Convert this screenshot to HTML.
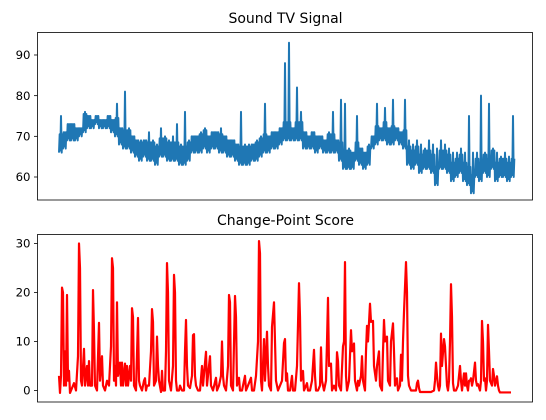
<!DOCTYPE html>
<html><head><meta charset="utf-8"><style>
body{margin:0;background:#fff;}
svg text{font-family:"DejaVu Sans","Liberation Sans",sans-serif;fill:#000;}
</style></head><body>
<svg id="chart" width="546" height="415" viewBox="0 0 546 415" xmlns="http://www.w3.org/2000/svg">
<rect width="546" height="415" fill="#fff"/>
<text x="285.5" y="23" font-size="14" text-anchor="middle">Sound TV Signal</text>
<text x="285.5" y="225" font-size="14" text-anchor="middle">Change-Point Score</text>
<g id="topPlot"></g>
<g id="botPlot"></g>
<rect x="37.5" y="32.5" width="495" height="167.5" fill="none" stroke="#000" stroke-width="0.8"/>
<rect x="37.5" y="234.5" width="495" height="167.5" fill="none" stroke="#000" stroke-width="0.8"/>
</svg>
<script>
const signalLow=[66,67,69,69,69,70,71,72,72,73,72,72,72,71,70,68,67,67,66,65,64,65,64,64,63,65,65,64,64,64,63,63,64,66,66,66,67,66,67,67,66,66,65,65,64,63,63,63,64,64,65,66,66,67,67,68,69,69,69,69,69,67,67,67,66,67,66,66,66,66,64,62,62,62,64,63,62,63,67,68,69,69,68,68,69,68,67,63,62,63,61,62,62,61,58,62,62,61,59,60,61,59,58,56,60,59,61,60,62,59,60,60,59,60];
const signalHigh=[75,71,73,73,72,72,76,75,74,75,74,74,75,74,78,72,81,72,70,69,69,69,71,69,68,72,70,69,70,73,68,76,69,70,70,71,72,70,71,71,72,70,69,69,68,76,68,68,68,69,70,78,70,71,71,72,88,93,72,82,76,71,70,71,70,70,69,71,76,69,79,78,67,66,75,67,66,68,70,78,72,77,72,79,72,71,79,69,68,69,68,67,69,68,67,69,68,67,66,66,67,66,75,66,66,80,66,78,67,66,65,66,65,75];
const scoreTimes=[0,1,2,3,4,5,6,7,8,9,10,11,13,15,17,19,20,21,22,23,25,26,28,29,30,31,33,34,35,36,38,40,41,43,44,46,48,50,52,53,54,55,56,57,58,59,61,62,63,64,66,67,68,69,71,72,73,74,75,77,79,80,81,83,85,86,87,88,90,92,93,94,95,97,98,99,100,102,103,104,106,107,108,109,110,112,114,115,116,117,118,120,121,123,125,126,127,128,129,131,133,134,135,136,137,139,141,143,144,147,148,151,152,154,157,158,160,162,163,164,165,167,169,170,171,172,174,176,177,178,180,181,183,186,187,189,192,193,195,197,199,200,201,202,203,205,206,208,209,210,212,213,215,216,217,219,221,223,225,226,227,228,229,231,233,234,236,238,240,241,242,244,245,248,249,251,253,255,256,257,259,261,262,263,265,267,268,269,270,272,273,275,277,278,279,280,282,284,285,286,287,288,290,292,293,295,296,298,299,300,302,303,304,306,307,308,309,311,312,314,315,317,318,320,321,323,324,325,326,328,329,331,332,334,335,336,337,338,339,341,342,343,344,345,347,348,349,350,352,354,357,358,359,360,361,363,367,372,375,376,377,378,379,380,381,382,383,385,386,387,388,389,390,391,392,393,394,395,397,399,401,402,403,405,406,407,408,409,410,411,412,413,414,416,417,418,419,421,422,423,424,425,426,427,428,429,430,431,433,434,435,436,438,439,440,441,452];
const scoreValues=[3,-0.5,3,21,20,1,8,1,19.5,2,4,-0.5,0.5,1.5,0,7,30,25,2,1,8.5,1,5,1,6,1,1,20.5,12,1,0,13.8,2,7,1,0,2,1,9,27,25,2,5,1,18,3,5.7,1,5.7,1,5.5,1,5,1,5,2,16.8,15,1,0,14.8,2,1,0,2,2.5,0,1,1,8,16.6,14,1,2,11,5,2,-0.3,4,0,0,8,26,20,2,0,5,23.6,20,2,0,0,1,0,0,8,14.4,5,1,0.5,3,11.3,11.5,3,1,0,0,5,1,7.9,1,7,1,0,2.6,0,1,3,10,3,1,0,5,19.5,18,1,0,19.3,15,1,2.6,0,0,3,0,1,2.6,0,0,3,10,30.5,28,2,0,10.5,2,12,5,1,0,13,18,10,2,0,1,2,9.7,10.5,2,3.5,0,0,3,0,0,5,21.9,15,2,4,0,1.5,0,0,2,8.3,3,0,0,1,8.8,2,0,2,10,18.9,5,5.5,0,1,0,7.8,6,1,0,9,10,26.2,3,0,2,12.3,8,9.6,2,0,2,1,3,7,2,0,8,13.2,10,17.7,14,14.2,5,2,5,8,1,0,8,14.4,10,11,2,1,10,13.7,8,1,2,2.5,0,1,7.3,2,10,16,26.2,20,3,1,0,0,0,1.5,2,0.5,-0.3,-0.3,-0.3,-0.3,0,2,5.7,3,1,0,1,11.6,5,10.5,9,5,1,0,2,10,21.7,15,1.5,0,0,1,5,2,0,3.5,1,3.5,1,0,2,2,2.5,1,2,5.7,2,1,1.3,0,2,14.2,10,2,2.5,0,2,13.4,8,2,1,4.4,3,1,2.9,1,0,-0.4,-0.4];
const signalTicks=[60,70,80,90];
const scoreTicks=[0,10,20,30];
const timeMax=452;

const NS='http://www.w3.org/2000/svg';
const xScale=t=>59+t/timeMax*452;
const ySig=v=>177-(v-60)*4.067;
const ySc=v=>390.5-v*4.9;
function mk(tag,attrs,parent){const e=document.createElementNS(NS,tag);for(const k in attrs)e.setAttribute(k,attrs[k]);parent.appendChild(e);return e;}
const topG=document.getElementById('topPlot'), botG=document.getElementById('botPlot');

let pts=[];
const step=timeMax/(signalLow.length-1);
for(let i=0;i<signalLow.length;i++){
  const t=i*step, lo=signalLow[i], hi=signalHigh[i];
  const hiC=Math.min(hi, lo+4.5);
  const sub=[[0,lo],[0.17,hiC],[0.33,lo+0.5],[0.5,hi],[0.67,lo],[0.83,hiC]];
  sub.forEach(([f,v])=>pts.push(xScale(t+f*step).toFixed(2)+','+ySig(v).toFixed(2)));
}
const sl=mk('polyline',{points:pts.join(' '),fill:'none',stroke:'#1f77b4','stroke-width':2,'stroke-linejoin':'round'},topG);



pts=scoreTimes.map((t,i)=>xScale(t).toFixed(2)+','+ySc(scoreValues[i]).toFixed(2));
const scl=mk('polyline',{points:pts.join(' '),fill:'none',stroke:'#ff0000','stroke-width':2.2,'stroke-linejoin':'round'},botG);



signalTicks.forEach(v=>{
  const y=ySig(v);
  const l=mk('line',{x1:34,x2:37.5,y1:y,y2:y,stroke:'#000','stroke-width':0.8},topG);
  
  
  const tx=mk('text',{x:30.5,y:y+4.2,'font-size':11.7,'text-anchor':'end'},topG);
  tx.textContent=v;
  
  
});
scoreTicks.forEach(v=>{
  const y=ySc(v);
  const l=mk('line',{x1:34,x2:37.5,y1:y,y2:y,stroke:'#000','stroke-width':0.8},botG);
  
  
  const tx=mk('text',{x:30.5,y:y+4.2,'font-size':11.7,'text-anchor':'end'},botG);
  tx.textContent=v;
  
  
});
</script>
</body></html>
